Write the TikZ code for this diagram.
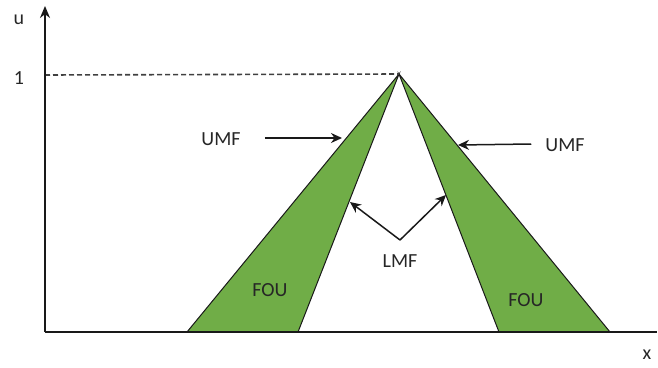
\documentclass[tikz,border=0pt]{standalone}
\usepackage{fontspec}
\setmainfont{Carlito}
\usetikzlibrary{arrows.meta}
\definecolor{fougreen}{HTML}{70AD47}
\tikzset{
  axisline/.style={line width=2pt, black!90},
  mfline/.style={line width=1pt, black!90, fill=fougreen, line join=miter},
  pointer/.style={line width=1.5pt, black!90, -{Stealth[length=11pt,width=10pt]}},
  lbl/.style={font=\fontsize{20}{24}\selectfont, text=black!85, inner sep=0pt},
}
\begin{document}
\begin{tikzpicture}[x=1pt,y=-1pt]
  \useasboundingbox (0,0) rectangle (658,367);
  % axes
  \coordinate (O) at (45,332);
  \coordinate (ytop) at (45,6);
  \coordinate (xend) at (657,332);
  \coordinate (one) at (45,75);
  % membership functions: apex and base points
  \coordinate (apex) at (399,74);
  \coordinate (lo) at (187,332);
  \coordinate (li) at (298,332);
  \coordinate (ri) at (499,332);
  \coordinate (ro) at (610,332);
  % footprint of uncertainty
  \draw[mfline] (lo) -- (apex) -- (li) -- cycle;
  \draw[mfline] (ri) -- (apex) -- (ro) -- cycle;
  % dashed level at membership 1
  \draw[dashed, dash pattern=on 5pt off 3pt, line width=1.6pt, black!75] (one) -- (apex);
  \draw[axisline, -{Stealth[length=12pt,width=10pt]}] (O) -- (ytop);
  \draw[axisline] (O) -- (xend);
  % axis labels
  \node[lbl] (ulab) at (19,20) {u};
  \node[lbl] (onelab) at (19,78) {1};
  \node[lbl] (xlab) at (647,355) {x};
  % region labels
  \node[lbl] (foul) at (270,290) {FOU};
  \node[lbl] (four) at (526,300) {FOU};
  \node[lbl] (umfl) at (221,139) {UMF};
  \node[lbl] (umfr) at (565,145) {UMF};
  \node[lbl] (lmf) at (400,261) {LMF};
  % pointers
  \coordinate (umflt) at (342,138);
  \coordinate (umfrt) at (458,145);
  \coordinate (lmfv) at (400,240);
  \coordinate (lmflt) at (350,202);
  \coordinate (lmfrt) at (446,195);
  \draw[pointer] (umfl.east) ++(24,-1) -- (umflt);
  \draw[pointer] (umfr.west) ++(-14,-1) -- (umfrt);
  \draw[pointer] (lmfv) -- (lmflt);
  \draw[pointer] (lmfv) -- (lmfrt);
\end{tikzpicture}
\end{document}
